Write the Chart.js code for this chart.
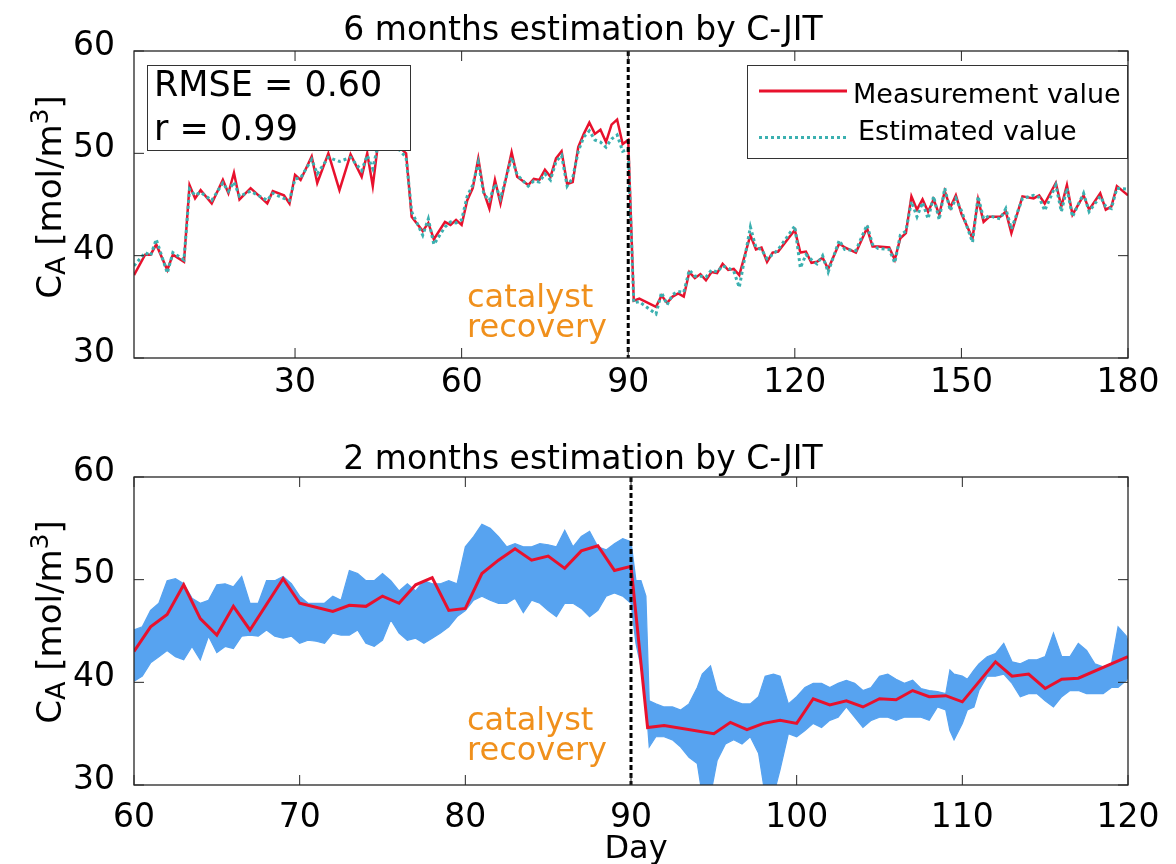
<!DOCTYPE html>
<html>
<head>
<meta charset="utf-8">
<script src="https://cdn.jsdelivr.net/npm/chart.js@4/dist/chart.umd.min.js"></script>
<style>
  html, body { margin: 0; padding: 0; background: #ffffff; }
  #page { position: relative; width: 1176px; height: 864px; }
  .panel { position: absolute; left: 0; width: 1176px; height: 432px; }
  #p1 { top: 0; }
  #p2 { top: 432px; }
</style>
</head>
<body>
<div id="page">
  <div class="panel" id="p1"><canvas id="sixMonths"></canvas></div>
  <div class="panel" id="p2"><canvas id="twoMonths"></canvas></div>
</div>
<script>
// ---- daily measurements and C-JIT estimates (day, mol/m3) ----
const measDays = [
  1, 3, 4, 5, 7, 8, 10, 11, 12, 13,
  15, 17, 18, 19, 20, 22, 25, 26, 28, 29,
  30, 31, 33, 34, 36, 38, 40, 42, 43, 44,
  45, 47, 48, 50, 51, 53, 54, 55, 57, 58,
  59, 60, 61, 62, 63, 64, 65, 66, 67, 69,
  70, 72, 73, 74, 75, 76, 77, 78, 79, 80,
  81, 82, 83, 84, 85, 86, 87, 88, 89, 90,
  91, 92, 95, 96, 97, 98, 99, 100, 101, 102,
  103, 104, 105, 106, 107, 108, 109, 110, 112, 113,
  114, 115, 116, 117, 120, 121, 122, 123, 124, 125,
  126, 128, 129, 131, 133, 134, 135, 137, 138, 139,
  140, 141, 142, 143, 144, 145, 146, 147, 148, 149,
  150, 152, 153, 154, 155, 157, 158, 159, 161, 163,
  164, 165, 167, 168, 169, 170, 172, 173, 175, 176,
  177, 178, 180
];
const measValues = [
  38.1, 40.1, 40.1, 41.1, 38.6, 40.1, 39.4, 46.9, 45.6, 46.4,
  45.1, 47.4, 46.1, 48.1, 45.5, 46.6, 45.1, 46.3, 45.9, 45.1,
  47.9, 47.4, 49.7, 47.1, 50.0, 46.4, 49.9, 47.7, 50.0, 46.8,
  51.2, 52.0, 51.0, 50.0, 43.8, 42.4, 43.2, 41.6, 43.3, 43.0,
  43.5, 43.0, 45.4, 46.6, 49.5, 46.2, 44.6, 47.4, 45.1, 50.1,
  47.7, 46.9, 47.5, 47.4, 48.4, 47.7, 49.5, 50.2, 47.0, 47.2,
  50.6, 51.9, 53.0, 51.9, 52.3, 51.1, 52.8, 53.3, 50.9, 51.3,
  35.6, 35.8, 35.0, 36.1, 35.4, 36.0, 36.3, 36.0, 38.4, 37.8,
  38.2, 37.6, 38.4, 38.3, 39.2, 38.6, 38.7, 38.1, 42.0, 40.6,
  40.8, 39.4, 40.3, 40.4, 42.5, 40.3, 40.4, 39.3, 39.4, 39.8,
  38.7, 41.2, 40.8, 40.3, 42.7, 40.9, 40.9, 40.8, 39.6, 41.7,
  42.2, 45.8, 44.5, 45.5, 44.3, 45.5, 44.0, 46.3, 44.7, 45.9,
  44.1, 41.7, 45.5, 43.3, 43.8, 43.8, 44.3, 42.2, 45.8, 45.6,
  45.9, 45.1, 47.1, 44.8, 46.9, 44.0, 45.9, 44.5, 46.1, 44.5,
  44.8, 46.8, 45.9
];
const estValues = [
  39.0, 40.3, 40.0, 41.6, 38.3, 40.3, 39.6, 46.5, 45.9, 46.2,
  45.4, 47.1, 46.3, 47.2, 45.8, 46.3, 45.4, 46.1, 45.6, 45.4,
  47.5, 47.6, 49.4, 48.0, 49.6, 49.2, 49.6, 48.3, 49.8, 48.5,
  51.0, 51.5, 50.8, 49.6, 44.3, 42.0, 43.6, 41.1, 42.8, 43.3,
  43.2, 43.5, 45.8, 46.9, 49.1, 46.0, 45.4, 47.0, 45.6, 49.6,
  47.9, 46.8, 47.3, 47.2, 48.0, 47.4, 49.2, 49.8, 46.8, 47.6,
  50.2, 51.6, 52.2, 51.3, 51.1, 50.6, 51.4, 51.8, 50.2, 50.4,
  35.4, 35.5, 34.3, 36.4, 35.2, 36.2, 36.5, 36.4, 38.6, 38.0,
  38.0, 37.9, 38.6, 38.4, 39.0, 38.8, 38.5, 36.9, 42.8, 40.8,
  40.6, 39.7, 40.1, 40.6, 42.9, 38.8, 40.1, 39.6, 39.2, 40.0,
  38.4, 41.5, 40.6, 40.5, 43.0, 41.1, 40.7, 40.6, 39.3, 42.0,
  42.4, 45.3, 43.8, 45.2, 43.6, 45.8, 43.5, 46.6, 44.4, 45.6,
  44.4, 41.3, 45.8, 43.6, 43.9, 43.6, 44.6, 42.6, 45.6, 45.9,
  45.7, 44.4, 46.9, 44.3, 46.6, 43.8, 46.1, 44.3, 45.8, 44.8,
  44.6, 46.6, 46.5
];

// ---- spread of the frequent C-JIT estimates, days 60-120 ----
const bandDays = [
  60, 60.5, 61, 61.5, 62, 62.5, 63, 63.5, 64, 64.5,
  65, 65.5, 66, 66.5, 67, 67.5, 68, 68.5, 69, 69.5,
  70, 70.5, 71, 71.5, 72, 72.5, 73, 73.5, 74, 74.5,
  75, 75.5, 76, 76.5, 77, 77.5, 78, 78.5, 79, 79.5,
  80, 80.5, 81, 81.5, 82, 82.5, 83, 83.5, 84, 84.5,
  85, 85.5, 86, 86.5, 87, 87.5, 88, 88.5, 89, 89.5,
  90, 90.3, 90.6, 90.9, 91.1, 91.5, 92, 92.5, 93, 93.5,
  94, 94.3, 94.8, 95.2, 95.7, 96.2, 96.7, 97.2, 97.7, 98.1,
  98.6, 99, 99.5, 100, 100.5, 101, 101.5, 102, 102.5, 103,
  103.5, 104, 104.5, 105, 105.5, 106, 106.5, 107, 107.5, 108,
  108.5, 109, 109.25, 109.5, 110, 110.3, 110.7, 111, 111.5, 112,
  112.5, 113, 113.5, 114, 114.5, 115, 115.5, 116, 116.5, 117,
  117.5, 118, 118.5, 119, 119.4, 119.9, 120
];
const bandHigh = [
  45.1, 45.4, 47.0, 47.7, 49.9, 50.1, 49.6, 48.2, 47.7, 48.0,
  49.5, 49.6, 49.3, 50.3, 47.7, 47.7, 49.9, 49.9, 50.3, 49.6,
  48.4, 47.7, 47.7, 47.7, 48.4, 48.0, 50.9, 50.6, 49.9, 49.9,
  50.6, 49.9, 48.9, 49.6, 48.9, 49.9, 49.6, 49.6, 49.9, 49.6,
  53.2, 54.2, 55.4, 55.0, 54.2, 53.2, 53.5, 53.2, 53.2, 53.5,
  53.4, 53.2, 54.8, 53.2, 54.2, 54.7, 53.2, 52.9, 53.5, 54.0,
  53.7, 49.9, 49.9, 48.4, 38.2, 37.9, 37.6, 37.6, 37.3, 37.9,
  39.5, 40.8, 41.6, 39.2, 38.6, 38.2, 37.9, 37.9, 38.6, 40.6,
  40.8, 40.6, 37.9, 38.6, 39.5, 39.9, 39.9, 39.5, 39.9, 40.2,
  39.9, 39.2, 39.5, 40.6, 40.8, 40.3, 39.9, 40.2, 39.4, 39.2,
  39.1, 38.9, 41.2, 40.8, 40.6, 40.3, 41.2, 41.8, 42.5, 42.8,
  43.8, 42.0, 41.8, 42.2, 42.2, 42.5, 44.8, 42.5, 42.5, 43.8,
  43.1, 41.8, 41.5, 41.8, 45.4, 44.5, 44.0
];
const bandLow = [
  40.1, 40.6, 41.9, 42.5, 43.1, 42.5, 42.2, 43.5, 42.2, 44.5,
  42.9, 43.5, 43.3, 44.5, 44.6, 44.5, 45.1, 44.5, 44.3, 44.5,
  43.8, 44.1, 44.0, 43.8, 44.8, 44.6, 44.6, 45.1, 43.8, 43.5,
  44.1, 46.1, 44.8, 44.1, 44.3, 43.8, 44.3, 44.8, 45.4, 46.4,
  47.0, 48.0, 48.4, 48.0, 47.7, 47.7, 48.2, 46.8, 48.0, 47.7,
  47.0, 46.4, 47.7, 47.7, 47.2, 46.4, 47.0, 48.4, 48.7, 48.4,
  47.7, 43.8, 41.5, 38.0, 33.7, 34.7, 34.7, 34.4, 33.7, 32.7,
  32.1, 29.0, 29.0, 32.4, 34.0, 34.4, 34.0, 34.7, 33.1, 29.0,
  29.0, 31.5, 35.0, 34.7, 35.3, 36.0, 35.6, 36.3, 36.6, 37.6,
  36.6, 35.6, 36.3, 36.6, 36.6, 36.3, 36.6, 36.6, 36.6, 36.3,
  37.6, 37.3, 35.3, 34.4, 36.0, 37.3, 37.6, 39.2, 40.6, 40.6,
  40.8, 39.9, 38.6, 38.9, 38.9, 38.2, 37.6, 38.6, 39.2, 39.2,
  38.9, 38.9, 38.9, 39.5, 39.5, 40.2, 40.5
];

// ---- axis ticks and annotation values ----
const sixMonthTicks = [30, 60, 90, 120, 150, 180];
const twoMonthTicks = [60, 70, 80, 90, 100, 110, 120];
const yTicks = [30, 40, 50, 60];
const recoveryDay = 90;
const rmse = 0.60;
const corr = 0.99;

const FONT = "'DejaVu Sans', 'Liberation Sans', sans-serif";
const RED = '#e8112d';
const TEAL = '#3bb0b0';
const BLUE = '#57a3f0';
const ORANGE = '#f0901c';

const pts = (xs, ys) => xs.map((d, i) => ({ x: d, y: ys[i] }));
const inRange = (arr, lo, hi) => arr.filter(p => p.x >= lo && p.x <= hi);

function line(ctx, x1, y1, x2, y2) {
  ctx.beginPath(); ctx.moveTo(x1, y1); ctx.lineTo(x2, y2); ctx.stroke();
}

// y-axis title "C_A [mol/m^3]" with subscript and superscript, rotated
function drawYTitle(ctx, baseX, centerY) {
  const parts = [
    { t: 'C', size: 34, dy: 0 },
    { t: 'A', size: 27, dy: 4 },
    { t: ' [mol/m', size: 34, dy: 0 },
    { t: '3', size: 25, dy: -13 },
    { t: ']', size: 34, dy: 0 }
  ];
  ctx.save();
  let total = 0;
  parts.forEach(p => { ctx.font = p.size + 'px ' + FONT; p.w = ctx.measureText(p.t).width; total += p.w; });
  ctx.translate(baseX, centerY);
  ctx.rotate(-Math.PI / 2);
  ctx.fillStyle = '#000';
  ctx.textBaseline = 'alphabetic';
  ctx.textAlign = 'left';
  let cx = -total / 2;
  parts.forEach(p => { ctx.font = p.size + 'px ' + FONT; ctx.fillText(p.t, cx, p.dy); cx += p.w; });
  ctx.restore();
}

// axes frame, inward tick marks, recovery marker, titles and boxes
const decorPlugin = {
  id: 'decor',
  afterDatasetsDraw(chart, args, o) {
    const { ctx, chartArea: a, scales: { x, y } } = chart;
    ctx.save();

    // catalyst recovery marker
    const vx = x.getPixelForValue(o.markerDay);
    ctx.strokeStyle = '#000';
    ctx.lineWidth = 3;
    ctx.setLineDash([5, 3]);
    line(ctx, vx, a.top, vx, a.bottom);
    ctx.setLineDash([]);

    ctx.fillStyle = ORANGE;
    ctx.font = '32px ' + FONT;
    ctx.textAlign = 'left';
    ctx.textBaseline = 'alphabetic';
    ctx.fillText('catalyst', 467, a.top + o.noteY);
    ctx.fillText('recovery', 467, a.top + o.noteY + 30);

    // box and inward ticks
    ctx.strokeStyle = '#262626';
    ctx.lineWidth = 1.3;
    ctx.strokeRect(a.left, a.top, a.right - a.left, a.bottom - a.top);
    ctx.lineWidth = 1;
    const L = 10;
    x.ticks.forEach(t => {
      const px = x.getPixelForValue(t.value);
      line(ctx, px, a.bottom, px, a.bottom - L);
      line(ctx, px, a.top, px, a.top + L);
    });
    y.ticks.forEach(t => {
      const py = y.getPixelForValue(t.value);
      line(ctx, a.left, py, a.left + L, py);
      line(ctx, a.right, py, a.right - L, py);
    });

    // title
    ctx.fillStyle = '#000';
    ctx.font = '33px ' + FONT;
    ctx.textAlign = 'center';
    ctx.fillText(o.title, 583, o.titleY);

    drawYTitle(ctx, 61, o.yTitleY);

    if (o.xTitle) {
      ctx.font = '32px ' + FONT;
      ctx.textAlign = 'center';
      ctx.fillText(o.xTitle, 636, o.xTitleY);
    }

    if (o.stats) {
      ctx.fillStyle = '#fff';
      ctx.fillRect(147, 65, 264, 86);
      ctx.strokeStyle = '#333';
      ctx.lineWidth = 1;
      ctx.strokeRect(147.5, 65.5, 263, 85);
      ctx.fillStyle = '#000';
      ctx.font = '35px ' + FONT;
      ctx.textAlign = 'left';
      ctx.fillText('RMSE = ' + rmse.toFixed(2), 154, 96);
      ctx.fillText('r = ' + corr.toFixed(2), 154, 140);
    }

    if (o.legend) {
      ctx.fillStyle = '#fff';
      ctx.fillRect(747, 65, 380, 94);
      ctx.strokeStyle = '#333';
      ctx.lineWidth = 1;
      ctx.strokeRect(747.5, 65.5, 380, 93);
      const meas = chart.data.datasets[1];
      const est = chart.data.datasets[0];
      ctx.lineWidth = 3;
      ctx.strokeStyle = meas.borderColor;
      line(ctx, 759, 91, 847, 91);
      ctx.strokeStyle = est.borderColor;
      ctx.setLineDash(est.borderDash);
      line(ctx, 759, 137.5, 847, 137.5);
      ctx.setLineDash([]);
      ctx.fillStyle = '#000';
      ctx.font = '27px ' + FONT;
      ctx.textAlign = 'left';
      ctx.fillText(meas.label, 853, 103);
      ctx.fillText(est.label, 858, 140);
    }
    ctx.restore();
  }
};

function yScale() {
  return {
    type: 'linear', min: 30, max: 60,
    afterBuildTicks: s => { s.ticks = yTicks.map(v => ({ value: v })); },
    afterFit: s => { s.width = 134; },
    grid: { display: false }, border: { display: false },
    ticks: { font: { family: FONT, size: 33 }, color: '#000', padding: 11, labelOffset: -5 }
  };
}

function xScale(min, max, ticks, height, pad) {
  return {
    type: 'linear', min: min, max: max,
    afterBuildTicks: s => { s.ticks = ticks.map(v => ({ value: v })); },
    afterFit: s => { s.height = height; },
    grid: { display: false }, border: { display: false },
    ticks: { font: { family: FONT, size: 33 }, color: '#000', padding: pad, maxRotation: 0 }
  };
}

const common = {
  responsive: true, maintainAspectRatio: false, animation: false, devicePixelRatio: 1,
  events: [],
  elements: { point: { radius: 0 }, line: { tension: 0 } }
};

// top panel: 6 months
new Chart(document.getElementById('sixMonths'), {
  type: 'line',
  data: {
    datasets: [
      { label: 'Estimated value', data: pts(measDays, estValues), borderColor: TEAL,
        borderWidth: 3, borderDash: [3, 3], fill: false },
      { label: 'Measurement value', data: pts(measDays, measValues), borderColor: RED,
        borderWidth: 2.5, fill: false }
    ]
  },
  options: Object.assign({}, common, {
    layout: { padding: { top: 51, right: 48, left: 0, bottom: 0 } },
    scales: { x: xScale(1, 180, sixMonthTicks, 74, -2), y: yScale() },
    plugins: {
      legend: { display: false }, tooltip: { enabled: false },
      decor: { title: '6 months estimation by C-JIT', titleY: 40, yTitleY: 197,
               markerDay: recoveryDay, noteY: 256, stats: true, legend: true }
    }
  }),
  plugins: [decorPlugin]
});

// bottom panel: 2 months
new Chart(document.getElementById('twoMonths'), {
  type: 'line',
  data: {
    datasets: [
      { label: 'Measurement value', data: inRange(pts(measDays, measValues), 60, 120),
        borderColor: RED, borderWidth: 3, fill: false },
      { label: 'Estimated value (max)', data: pts(bandDays, bandHigh), borderColor: BLUE,
        backgroundColor: BLUE, borderWidth: 1.2, fill: '+1' },
      { label: 'Estimated value (min)', data: pts(bandDays, bandLow), borderColor: BLUE,
        borderWidth: 1.2, fill: false }
    ]
  },
  options: Object.assign({}, common, {
    layout: { padding: { top: 45, right: 48, left: 0, bottom: 0 } },
    scales: { x: xScale(60, 120, twoMonthTicks, 79, 6), y: yScale() },
    plugins: {
      legend: { display: false }, tooltip: { enabled: false },
      decor: { title: '2 months estimation by C-JIT', titleY: 37, yTitleY: 190,
               markerDay: recoveryDay, noteY: 253, xTitle: 'Day', xTitleY: 426 }
    }
  }),
  plugins: [decorPlugin]
});
</script>
</body>
</html>
